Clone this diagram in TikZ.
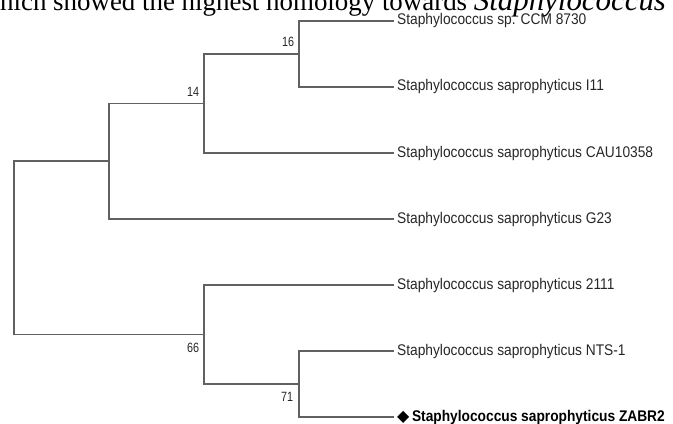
\documentclass[tikz,border=0pt]{standalone}
\usepackage{fontspec}
\setmainfont{Liberation Serif}
\newfontfamily\arialf[FakeStretch=0.89]{Liberation Sans}
\newfontfamily\bootf[FakeStretch=0.8]{Liberation Sans}
\newfontfamily\symf{DejaVu Sans}
\definecolor{branch}{gray}{0.38}
\definecolor{leaftext}{gray}{0.15}
\tikzset{
  branchline/.style={draw=branch,line width=1.6bp},
  leaf/.style={anchor=west,inner xsep=3bp,inner ysep=1bp,text=leaftext,
    font=\arialf\fontsize{15.5}{17}\selectfont},
  boot/.style={inner sep=0pt,text=leaftext,font=\bootf\fontsize{13.5}{15}\selectfont},
}
\begin{document}
\begin{tikzpicture}[x=1bp,y=-1bp,line join=miter]
    \useasboundingbox (0,0) rectangle (673,423);
    \clip (0,0) rectangle (673,423);
    %% cut-off caption line
    \node (cap) at (0,10) [anchor=base west,inner sep=0pt,font=\fontsize{27}{29}\selectfont]
      {hich showed the highest homology towards {\fontsize{31}{33}\selectfont\itshape Staphylococcus}};
    %% inner nodes
    \coordinate (r) at (14,248);
    \coordinate (a) at (109,161);
    \coordinate (b) at (204,103.5);
    \coordinate (c) at (299,54);
    \coordinate (d) at (204,334.5);
    \coordinate (e) at (299,384);
    %% leaves
    \node (ccm) at (394,21) [leaf] {Staphylococcus sp. CCM 8730};
    \node (i11) at (394,87) [leaf] {Staphylococcus saprophyticus I11};
    \node (cau) at (394,153) [leaf] {Staphylococcus saprophyticus CAU10358};
    \node (g23) at (394,219) [leaf] {Staphylococcus saprophyticus G23};
    \node (s2111) at (394,285) [leaf] {Staphylococcus saprophyticus 2111};
    \node (nts) at (394,351) [leaf] {Staphylococcus saprophyticus NTS-1};
    \node (zabr) at (394,417) [leaf,text=black]
      {\raisebox{2bp}{{\symf\fontsize{16}{17}\selectfont ◆}\,\textbf{Staphylococcus saprophyticus ZABR2}}};
    %% bootstrap values
    \node (bs16) at (288,42) [boot] {16};
    \node (bs14) at (193,92) [boot] {14};
    \node (bs66) at (193,348) [boot] {66};
    \node (bs71) at (287,397) [boot] {71};
    %% branches
    \draw [branchline] (r) |- (a);
    \draw [branchline] (r) |- (d);
    \draw [branchline] (a) |- (b);
    \draw [branchline] (a) |- (g23.west);
    \draw [branchline] (b) |- (c);
    \draw [branchline] (b) |- (cau.west);
    \draw [branchline] (c) |- (ccm.west);
    \draw [branchline] (c) |- (i11.west);
    \draw [branchline] (d) |- (s2111.west);
    \draw [branchline] (d) |- (e);
    \draw [branchline] (e) |- (nts.west);
    \draw [branchline] (e) |- (zabr.west);
    %
\end{tikzpicture}
\end{document}
